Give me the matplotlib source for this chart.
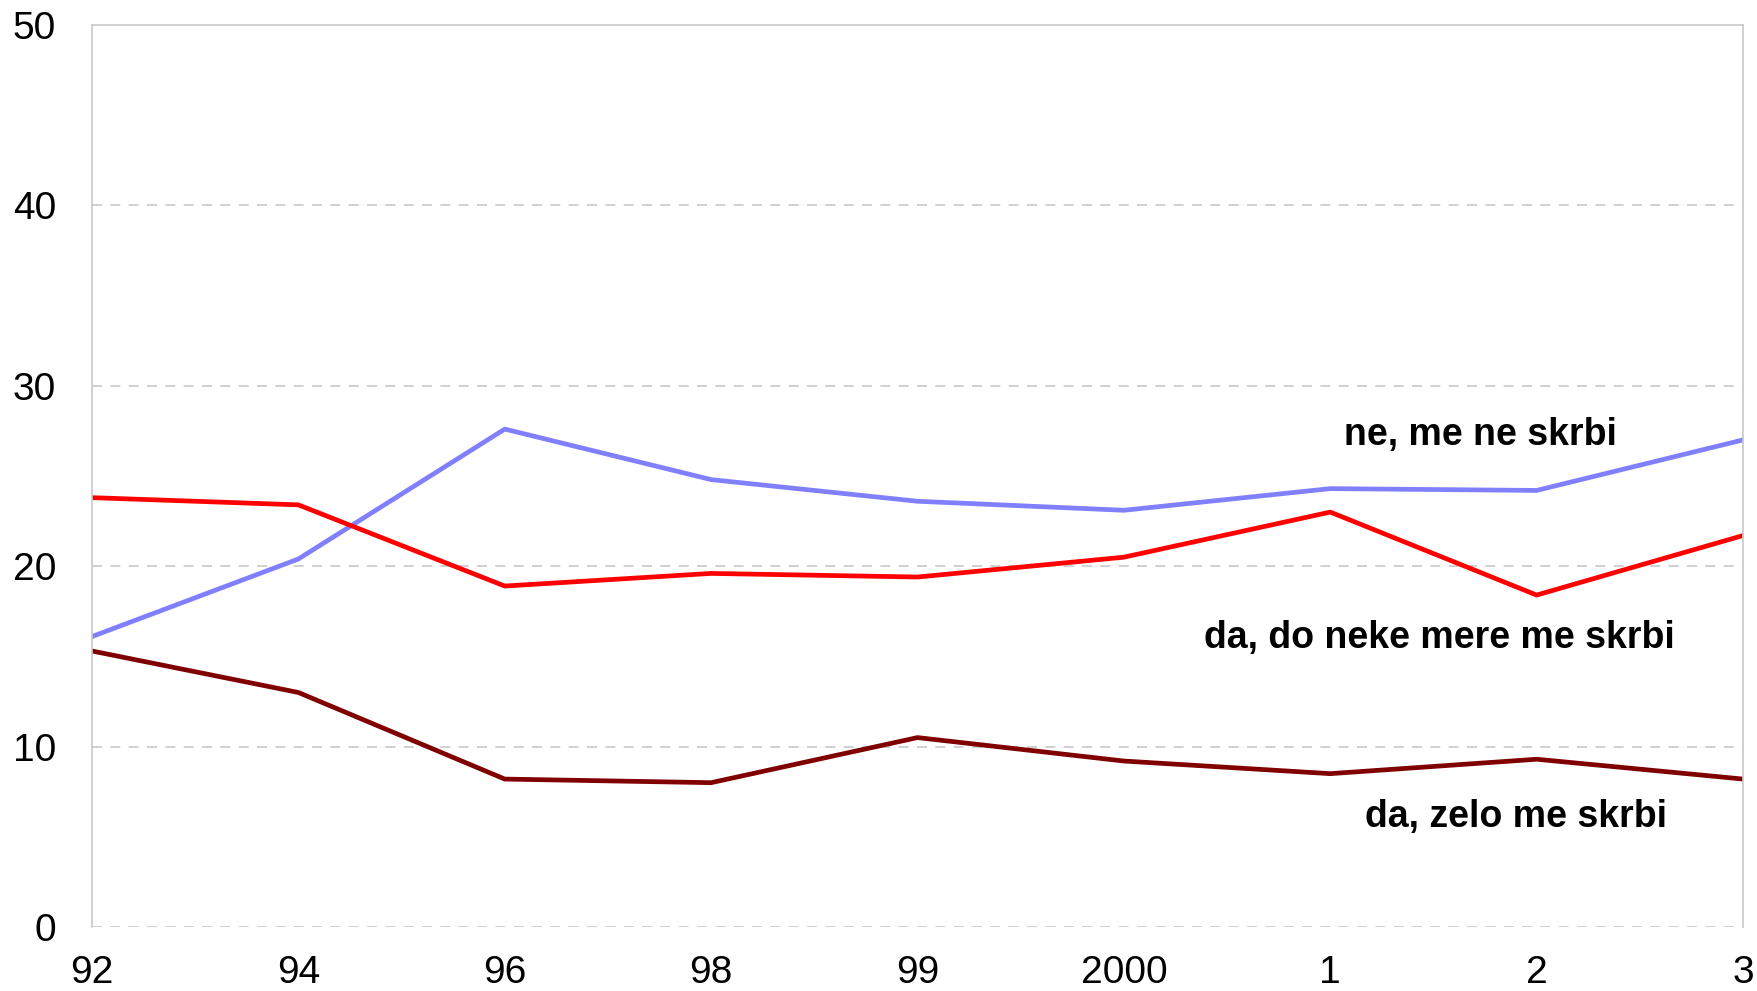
import matplotlib.pyplot as plt

years = ["92", "94", "96", "98", "99", "2000", "1", "2", "3"]
ne_ne_skrbi = [16.1, 20.4, 27.6, 24.8, 23.6, 23.1, 24.3, 24.2, 27.0]
do_neke_mere = [23.8, 23.4, 18.9, 19.6, 19.4, 20.5, 23.0, 18.4, 21.7]
zelo_skrbi = [15.3, 13.0, 8.2, 8.0, 10.5, 9.2, 8.5, 9.3, 8.2]

plt.rcParams["font.family"] = ["Liberation Sans", "DejaVu Sans"]

fig = plt.figure(figsize=(17.58, 9.91), dpi=100)
ax = fig.add_axes([92 / 1758, 1 - 927 / 991, (1743 - 92) / 1758, (927 - 25) / 991])

x = list(range(len(years)))
ax.plot(x, ne_ne_skrbi, color="#8080FF", linewidth=3.4)
ax.plot(x, do_neke_mere, color="#FF0000", linewidth=3.4)
ax.plot(x, zelo_skrbi, color="#800000", linewidth=3.4)

ax.set_xlim(0, len(years) - 1)
ax.set_ylim(0, 50)
ax.set_yticks([0, 10, 20, 30, 40, 50])
ax.set_xticks(x)
ax.set_xticklabels(years)
ax.tick_params(axis="both", length=0, labelsize=28)
ax.tick_params(axis="y", pad=26)
ax.tick_params(axis="x", pad=20)

for yv in [0, 10, 20, 30, 40]:
    ax.axhline(yv, color="#c8c8c8", linestyle=(0, (6, 5)), linewidth=1.2, zorder=0)

for side in ["left", "right", "top"]:
    ax.spines[side].set_color("#c8c8c8")
    ax.spines[side].set_linewidth(1.2)
ax.spines["bottom"].set_visible(False)

ax.text(6.73, 27.3, "ne, me ne skrbi", fontsize=27, fontweight="bold",
        ha="center", va="center")
ax.text(6.53, 16.0, "da, do neke mere me skrbi", fontsize=27, fontweight="bold",
        ha="center", va="center")
ax.text(6.90, 6.1, "da, zelo me skrbi", fontsize=27, fontweight="bold",
        ha="center", va="center")

fig.savefig("out.png", dpi=100)
